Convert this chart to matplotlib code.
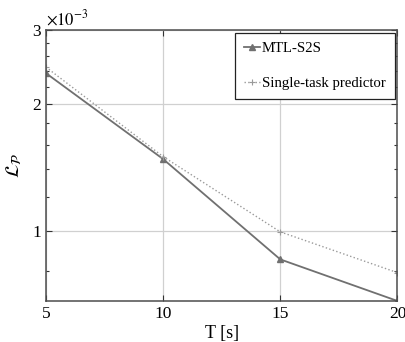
import matplotlib.pyplot as plt
from matplotlib.ticker import FixedLocator, FuncFormatter, NullFormatter

plt.rcParams['font.family'] = ['Liberation Serif', 'DejaVu Serif']
plt.rcParams['mathtext.fontset'] = 'stix'

T = [5, 10, 15, 20]
mtl_s2s = [2.37e-3, 1.48e-3, 0.854e-3, 0.68e-3]
single_task = [2.45e-3, 1.50e-3, 0.993e-3, 0.794e-3]

major_y = [1e-3, 2e-3, 3e-3]
minor_y = [v * 1e-4 for v in [8, 12, 14, 16, 18, 22, 24, 26, 28]]

fig = plt.figure(figsize=(4.06, 3.42), dpi=100)
ax = fig.add_axes([0.113, 0.12, 0.866, 0.792])

ax.plot(T, mtl_s2s, '-^', color='#707070', lw=1.3, ms=4, label='MTL-S2S')
ax.plot(T, single_task, ':+', color='#9a9a9a', lw=1.0, ms=4, mew=0.8,
        label='Single-task predictor')

ax.set_yscale('log')
ax.set_xlim(5, 20)
ax.set_ylim(0.68e-3, 3e-3)
ax.set_xticks([5, 10, 15, 20])
ax.yaxis.set_major_locator(FixedLocator(major_y))
ax.yaxis.set_minor_locator(FixedLocator(minor_y))
ax.yaxis.set_major_formatter(FuncFormatter(lambda v, p: '%g' % round(v * 1e3, 3)))
ax.yaxis.set_minor_formatter(NullFormatter())

ax.grid(True, which='major', color='#d0d0d0', lw=0.9)
ax.tick_params(which='both', direction='in', top=True, right=True,
               labelsize=12.5, color='#333333', width=0.8)
ax.tick_params(which='major', length=4)
ax.tick_params(which='minor', length=2.5)
for s in ax.spines.values():
    s.set_color('#4d4d4d')
    s.set_linewidth(1.1)

ax.set_xlabel('T [s]', fontsize=13, labelpad=2)
ax.set_ylabel(r'$\mathcal{L}_\mathcal{P}$', fontsize=14, labelpad=6)
ax.text(0.0, 1.005, r'$\times10^{-3}$', transform=ax.transAxes,
        fontsize=12, ha='left', va='bottom')

leg = ax.legend(loc='upper right', fontsize=10.6, handlelength=1.1,
                handletextpad=0.15, labelspacing=1.45, borderpad=0.6,
                fancybox=False, framealpha=1, edgecolor='#222222',
                borderaxespad=0.2)
leg.get_frame().set_linewidth(0.9)

fig.savefig('out.png', dpi=100)
